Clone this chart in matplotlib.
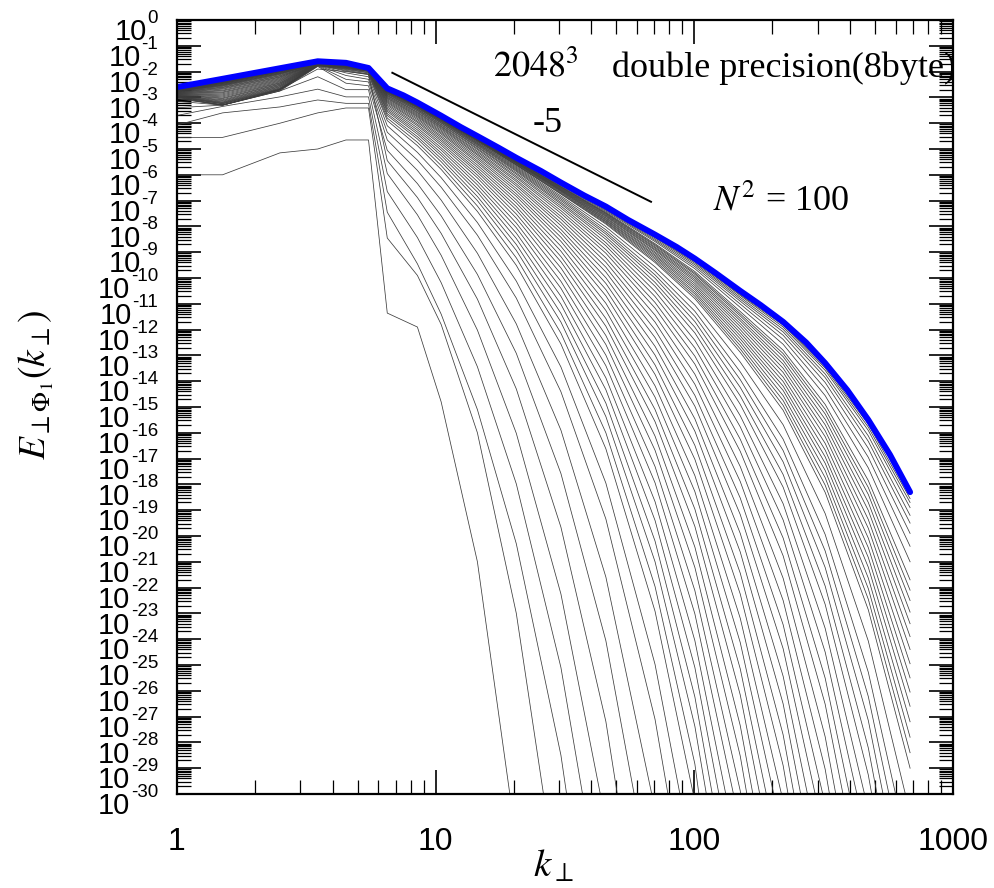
import numpy as np
import matplotlib.pyplot as plt
from matplotlib.ticker import LogLocator, NullFormatter, FixedLocator

plt.rcParams['mathtext.fontset'] = 'stix'

# shells where the spectra are sampled (k_perp)
K_LOW = [1, 1.5, 2.5, 3.5, 4.5, 5.5]
K_HIGH = [6.5, 8.5, 10.5, 14.5, 20.5, 30.5, 45.5, 70.5, 100.5, 150.5, 220.5, 320.5, 470.5, 682.5]

# final spectrum (blue), log10 E
BLUE_K = [1, 1.5, 2.5, 3.5, 4.5, 5.5, 6.5, 7.5, 8.5, 10.5, 12.5, 14.5, 17.5, 20.5, 25.5,
          30.5, 37.5, 45.5, 55.5, 70.5, 85.5, 100.5, 120.5, 150.5, 180.5, 220.5, 270.5,
          320.5, 390.5, 470.5, 570.5, 682.5]
BLUE_LOG_E = [-2.6, -2.28, -1.87, -1.6, -1.66, -1.86, -2.65, -2.92, -3.2, -3.71, -4.15, -4.5,
              -4.95, -5.34, -5.85, -6.3, -6.8, -7.23, -7.75, -8.32, -8.8, -9.25, -9.8, -10.5,
              -11.05, -11.7, -12.5, -13.3, -14.35, -15.5, -16.85, -18.3]

# earlier snapshots, log10 E at K_LOW
SNAP_LOW = [
    [-6.0, -6.0, -5.15, -5.0, -4.65, -4.65],
    [-4.55, -4.55, -4.0, -3.6, -3.41, -3.41],
    [-4.07, -3.6, -3.37, -3.1, -3.23, -3.23],
    [-3.7, -3.35, -2.98, -2.68, -2.98, -2.98],
    [-3.4, -3.3, -2.75, -2.2, -2.7, -2.7],
    [-3.15, -3.3, -2.7, -1.9, -2.0, -2.1],
    [-3.05, -3.3, -2.75, -1.8, -2.45, -2.55],
    [-3.03, -3.3, -2.72, -1.78, -2.3, -2.4],
    [-3.0, -3.3, -2.7, -1.77, -2.15, -2.3],
    [-3.0, -3.28, -2.7, -1.76, -2.05, -2.2],
    [-2.98, -3.25, -2.68, -1.75, -1.98, -2.12],
    [-2.98, -3.24, -2.67, -1.75, -1.95, -2.09],
    [-2.97, -3.22, -2.65, -1.75, -1.92, -2.05],
    [-2.96, -3.2, -2.63, -1.75, -1.9, -2.03],
    [-2.95, -3.18, -2.6, -1.74, -1.88, -2.0],
    [-2.94, -3.15, -2.58, -1.74, -1.87, -1.99],
    [-2.93, -3.12, -2.55, -1.73, -1.85, -1.98],
    [-2.92, -3.09, -2.53, -1.73, -1.84, -1.97],
    [-2.91, -3.05, -2.5, -1.72, -1.83, -1.96],
    [-2.9, -3.02, -2.48, -1.72, -1.82, -1.96],
    [-2.89, -2.98, -2.45, -1.71, -1.81, -1.95],
    [-2.88, -2.94, -2.43, -1.71, -1.81, -1.95],
    [-2.87, -2.9, -2.4, -1.7, -1.8, -1.94],
    [-2.86, -2.86, -2.37, -1.7, -1.79, -1.94],
    [-2.85, -2.82, -2.34, -1.7, -1.78, -1.93],
    [-2.84, -2.79, -2.31, -1.7, -1.78, -1.93],
    [-2.83, -2.75, -2.28, -1.69, -1.77, -1.92],
    [-2.82, -2.72, -2.25, -1.69, -1.77, -1.92],
    [-2.81, -2.68, -2.22, -1.68, -1.76, -1.92],
    [-2.8, -2.65, -2.2, -1.68, -1.76, -1.92],
    [-2.79, -2.62, -2.17, -1.68, -1.75, -1.91],
    [-2.78, -2.6, -2.15, -1.68, -1.75, -1.91],
    [-2.77, -2.57, -2.12, -1.67, -1.74, -1.91],
    [-2.76, -2.55, -2.1, -1.67, -1.74, -1.91],
    [-2.75, -2.53, -2.08, -1.67, -1.73, -1.9],
    [-2.75, -2.52, -2.07, -1.67, -1.73, -1.9],
    [-2.74, -2.5, -2.05, -1.66, -1.72, -1.9],
    [-2.74, -2.49, -2.04, -1.66, -1.72, -1.9],
    [-2.73, -2.47, -2.02, -1.66, -1.72, -1.9],
    [-2.73, -2.46, -2.01, -1.66, -1.72, -1.9],
    [-2.72, -2.45, -2.0, -1.65, -1.71, -1.89],
    [-2.72, -2.44, -1.99, -1.65, -1.71, -1.89],
    [-2.71, -2.43, -1.98, -1.65, -1.71, -1.89],
    [-2.71, -2.43, -1.98, -1.65, -1.71, -1.89],
    [-2.70, -2.42, -1.97, -1.65, -1.70, -1.89],
    [-2.70, -2.42, -1.97, -1.65, -1.70, -1.89],
    [-2.70, -2.41, -1.96, -1.64, -1.70, -1.89],
    [-2.70, -2.41, -1.96, -1.64, -1.70, -1.89],
    [-2.69, -2.40, -1.95, -1.64, -1.70, -1.88],
    [-2.69, -2.40, -1.95, -1.64, -1.70, -1.88],
    [-2.69, -2.39, -1.94, -1.64, -1.69, -1.88],
    [-2.69, -2.39, -1.94, -1.64, -1.69, -1.88],
    [-2.68, -2.38, -1.94, -1.63, -1.69, -1.88],
    [-2.68, -2.38, -1.94, -1.63, -1.69, -1.88],
    [-2.68, -2.37, -1.93, -1.63, -1.69, -1.88],
    [-2.68, -2.37, -1.93, -1.63, -1.69, -1.88],
    [-2.67, -2.36, -1.92, -1.63, -1.68, -1.88],
    [-2.67, -2.35, -1.92, -1.62, -1.68, -1.87],
    [-2.66, -2.34, -1.91, -1.62, -1.68, -1.87],
    [-2.66, -2.33, -1.90, -1.62, -1.67, -1.87],
    [-2.65, -2.32, -1.90, -1.61, -1.67, -1.87],
    [-2.65, -2.31, -1.89, -1.61, -1.67, -1.87],
    [-2.64, -2.30, -1.89, -1.61, -1.66, -1.86],
    [-2.63, -2.30, -1.88, -1.60, -1.66, -1.86],
    [-2.62, -2.29, -1.88, -1.60, -1.66, -1.86],
]

# same snapshots, log10 E at K_HIGH (None = below the frame)
N_ = None
SNAP_HIGH = [
    [-11.36, -11.9, -14.8, -21.0, -31.8, N_, N_, N_, N_, N_, N_, N_, N_, N_],
    [-8.45, -9.9, -11.8, -16.0, -23.0, -34.5, N_, N_, N_, N_, N_, N_, N_, N_],
    [-7.45, -9.45, -11.4, -15.1, -20.3, -28.5, -40.4, N_, N_, N_, N_, N_, N_, N_],
    [-6.65, -8.43, -10.18, -13.44, -17.98, -25.1, -35.3, N_, N_, N_, N_, N_, N_, N_],
    [-5.95, -7.55, -9.12, -12.02, -16.02, -22.25, -31.1, N_, N_, N_, N_, N_, N_, N_],
    [-5.45, -6.88, -8.27, -10.82, -14.3, -19.66, -27.19, -39.3, N_, N_, N_, N_, N_, N_],
    [-5.05, -6.34, -7.59, -9.86, -12.92, -17.58, -24.06, -34.4, N_, N_, N_, N_, N_, N_],
    [-4.65, -5.83, -6.98, -9.04, -11.78, -15.9, -21.59, -30.61, N_, N_, N_, N_, N_, N_],
    [-4.35, -5.43, -6.48, -8.34, -10.78, -14.41, -19.34, -27.11, -36.05, N_, N_, N_, N_, N_],
    [-4.1, -5.13, -6.11, -7.85, -10.12, -13.45, -17.95, -24.98, -33.03, N_, N_, N_, N_, N_],
    [-3.9, -4.87, -5.79, -7.42, -9.51, -12.56, -16.62, -22.92, -30.3, N_, N_, N_, N_, N_],
    [-3.8, -4.74, -5.64, -7.21, -9.22, -12.14, -16.0, -21.96, -28.84, -42.0, N_, N_, N_, N_],
    [-3.7, -4.61, -5.49, -7.0, -8.93, -11.71, -15.37, -21.0, -27.38, -37.76, N_, N_, N_, N_],
    [-3.63, -4.52, -5.37, -6.84, -8.7, -11.37, -14.85, -20.2, -26.24, -36.06, N_, N_, N_, N_],
    [-3.55, -4.42, -5.25, -6.67, -8.47, -11.02, -14.33, -19.4, -25.1, -34.35, N_, N_, N_, N_],
    [-3.49, -4.34, -5.15, -6.53, -8.26, -10.71, -13.87, -18.67, -24.06, -32.79, N_, N_, N_, N_],
    [-3.43, -4.26, -5.04, -6.39, -8.05, -10.4, -13.4, -17.94, -23.02, -31.23, N_, N_, N_, N_],
    [-3.37, -4.18, -4.95, -6.26, -7.87, -10.13, -12.99, -17.31, -22.12, -29.88, -44.0, N_, N_, N_],
    [-3.31, -4.1, -4.85, -6.12, -7.68, -9.85, -12.58, -16.68, -21.22, -28.53, -38.1, N_, N_, N_],
    [-3.26, -4.04, -4.77, -6.01, -7.52, -9.61, -12.23, -16.13, -20.43, -27.35, -36.36, N_, N_, N_],
    [-3.21, -3.97, -4.69, -5.9, -7.36, -9.37, -11.87, -15.57, -19.63, -26.16, -34.62, N_, N_, N_],
    [-3.17, -3.92, -4.62, -5.81, -7.23, -9.17, -11.57, -15.1, -18.96, -25.15, -33.14, N_, N_, N_],
    [-3.13, -3.86, -4.55, -5.71, -7.09, -8.96, -11.26, -14.62, -18.28, -24.13, -31.65, N_, N_, N_],
    [-3.09, -3.81, -4.49, -5.62, -6.97, -8.77, -10.98, -14.18, -17.66, -23.19, -30.28, -45.0, N_, N_],
    [-3.05, -3.76, -4.42, -5.53, -6.84, -8.58, -10.69, -13.74, -17.03, -22.25, -28.9, -38.35, N_, N_],
    [-3.02, -3.72, -4.37, -5.46, -6.74, -8.42, -10.45, -13.37, -16.49, -21.44, -27.71, -36.61, N_, N_],
    [-2.99, -3.68, -4.32, -5.38, -6.63, -8.26, -10.21, -12.99, -15.94, -20.62, -26.51, -34.87, N_, N_],
    [-2.96, -3.64, -4.27, -5.31, -6.53, -8.12, -9.99, -12.65, -15.46, -19.9, -25.44, -33.32, N_, N_],
    [-2.93, -3.6, -4.22, -5.24, -6.43, -7.97, -9.77, -12.31, -14.97, -19.17, -24.37, -31.76, N_, N_],
    [-2.91, -3.57, -4.18, -5.19, -6.35, -7.85, -9.58, -12.01, -14.55, -18.53, -23.44, -30.4, -45.0, N_],
    [-2.88, -3.53, -4.14, -5.13, -6.26, -7.72, -9.39, -11.71, -14.12, -17.89, -22.5, -29.04, -38.65, N_],
    [-2.86, -3.5, -4.11, -5.08, -6.19, -7.61, -9.22, -11.44, -13.73, -17.31, -21.64, -27.78, -36.8, N_],
    [-2.84, -3.47, -4.07, -5.02, -6.11, -7.49, -9.04, -11.17, -13.34, -16.72, -20.77, -26.52, -34.95, N_],
    [-2.82, -3.45, -4.04, -4.98, -6.05, -7.39, -8.9, -10.95, -13.03, -16.25, -20.08, -25.51, -33.47, N_],
    [-2.8, -3.42, -4.0, -4.93, -5.98, -7.29, -8.75, -10.72, -12.71, -15.77, -19.38, -24.5, -31.98, N_],
    [-2.79, -3.4, -3.98, -4.9, -5.93, -7.21, -8.63, -10.52, -12.42, -15.34, -18.75, -23.58, -30.62, -45.0],
    [-2.77, -3.38, -3.95, -4.86, -5.87, -7.13, -8.5, -10.32, -12.13, -14.9, -18.11, -22.65, -29.26, -38.29],
    [-2.76, -3.37, -3.93, -4.83, -5.83, -7.07, -8.4, -10.17, -11.91, -14.57, -17.62, -21.94, -28.21, -36.76],
    [-2.75, -3.35, -3.91, -4.8, -5.79, -7.0, -8.3, -10.01, -11.69, -14.24, -17.13, -21.22, -27.15, -35.23],
    [-2.74, -3.34, -3.89, -4.78, -5.75, -6.94, -8.22, -9.88, -11.49, -13.94, -16.69, -20.58, -26.22, -33.87],
    [-2.73, -3.32, -3.87, -4.75, -5.71, -6.88, -8.13, -9.74, -11.29, -13.64, -16.25, -19.94, -25.28, -32.51],
    [-2.73, -3.31, -3.86, -4.73, -5.67, -6.82, -8.02, -9.57, -11.05, -13.26, -15.69, -19.13, -24.07, -30.76],
    [-2.72, -3.3, -3.84, -4.7, -5.63, -6.75, -7.91, -9.4, -10.8, -12.88, -15.13, -18.31, -22.86, -29.0],
    [-2.72, -3.3, -3.84, -4.69, -5.62, -6.73, -7.87, -9.34, -10.71, -12.75, -14.94, -18.03, -22.45, -28.4],
    [-2.71, -3.29, -3.83, -4.67, -5.6, -6.7, -7.83, -9.27, -10.62, -12.62, -14.75, -17.74, -22.04, -27.8],
    [-2.71, -3.28, -3.82, -4.66, -5.58, -6.67, -7.8, -9.21, -10.54, -12.49, -14.56, -17.46, -21.63, -27.2],
    [-2.7, -3.27, -3.81, -4.65, -5.56, -6.64, -7.76, -9.15, -10.45, -12.36, -14.36, -17.18, -21.21, -26.6],
    [-2.7, -3.27, -3.81, -4.64, -5.55, -6.62, -7.73, -9.1, -10.37, -12.24, -14.19, -16.93, -20.83, -26.05],
    [-2.7, -3.27, -3.8, -4.63, -5.53, -6.6, -7.69, -9.04, -10.29, -12.12, -14.01, -16.67, -20.45, -25.5],
    [-2.7, -3.27, -3.8, -4.62, -5.52, -6.58, -7.66, -8.99, -10.21, -12.0, -13.84, -16.41, -20.08, -24.95],
    [-2.69, -3.26, -3.79, -4.61, -5.51, -6.56, -7.62, -8.93, -10.13, -11.88, -13.66, -16.15, -19.7, -24.4],
    [-2.69, -3.26, -3.79, -4.61, -5.5, -6.54, -7.59, -8.89, -10.06, -11.77, -13.5, -15.92, -19.36, -23.9],
    [-2.69, -3.25, -3.78, -4.6, -5.48, -6.52, -7.56, -8.84, -9.99, -11.66, -13.34, -15.69, -19.01, -23.4],
    [-2.69, -3.25, -3.78, -4.59, -5.47, -6.5, -7.53, -8.8, -9.93, -11.57, -13.2, -15.48, -18.7, -22.95],
    [-2.68, -3.24, -3.77, -4.58, -5.46, -6.48, -7.5, -8.75, -9.86, -11.47, -13.05, -15.27, -18.39, -22.5],
    [-2.68, -3.24, -3.77, -4.58, -5.45, -6.47, -7.48, -8.71, -9.81, -11.39, -12.93, -15.09, -18.12, -22.1],
    [-2.68, -3.24, -3.76, -4.57, -5.44, -6.45, -7.45, -8.67, -9.75, -11.3, -12.8, -14.9, -17.85, -21.7],
    [-2.67, -3.23, -3.75, -4.55, -5.42, -6.42, -7.41, -8.59, -9.64, -11.14, -12.57, -14.56, -17.36, -21.0],
    [-2.67, -3.22, -3.74, -4.54, -5.4, -6.39, -7.37, -8.54, -9.56, -11.01, -12.38, -14.29, -16.95, -20.4],
    [-2.67, -3.22, -3.73, -4.53, -5.39, -6.37, -7.34, -8.49, -9.49, -10.9, -12.22, -14.05, -16.6, -19.9],
    [-2.66, -3.22, -3.73, -4.53, -5.38, -6.35, -7.31, -8.44, -9.43, -10.82, -12.09, -13.86, -16.33, -19.5],
    [-2.66, -3.21, -3.73, -4.52, -5.37, -6.34, -7.29, -8.41, -9.38, -10.75, -11.99, -13.72, -16.12, -19.2],
    [-2.66, -3.21, -3.72, -4.52, -5.36, -6.33, -7.27, -8.38, -9.34, -10.68, -11.9, -13.58, -15.91, -18.9],
    [-2.66, -3.2, -3.72, -4.51, -5.35, -6.32, -7.26, -8.36, -9.31, -10.64, -11.83, -13.49, -15.78, -18.7],
    [-2.65, -3.2, -3.71, -4.51, -5.35, -6.31, -7.25, -8.34, -9.28, -10.6, -11.78, -13.42, -15.67, -18.55],
]

# reference power law k^-5
SLOPE_K = [6.8, 68.0]
SLOPE_E = [9e-3, 9e-8]

Y_EXPONENTS = list(range(0, -31, -1))
X_TICKS = [1, 10, 100, 1000]
X_TICKLABELS = ['1', '10', '100', '1000']

fig = plt.figure(figsize=(9.94, 8.88), dpi=100)
ax = fig.add_axes([177 / 994, 1 - 794 / 888, 776 / 994, 774 / 888])

k_grid = np.array(K_LOW + K_HIGH, dtype=float)
for low, high in zip(SNAP_LOW, SNAP_HIGH):
    logE = np.array(low + high, dtype=float)
    ax.plot(k_grid, 10.0 ** logE, color='#3c3c3c', lw=0.55)

ax.plot(BLUE_K, 10.0 ** np.array(BLUE_LOG_E), color='#0000ff', lw=4.3,
        solid_joinstyle='round', solid_capstyle='round')
ax.plot(SLOPE_K, SLOPE_E, color='black', lw=1.4)

ax.set_xscale('log')
ax.set_yscale('log')
ax.set_xlim(1, 1000)
ax.set_ylim(1e-30, 1)

ax.xaxis.set_major_locator(FixedLocator(X_TICKS))
ax.set_xticklabels(X_TICKLABELS, fontsize=23, family='Liberation Sans')
ax.xaxis.set_minor_locator(LogLocator(base=10, subs=np.arange(2, 10), numticks=1000))
ax.xaxis.set_minor_formatter(NullFormatter())
ax.yaxis.set_major_locator(FixedLocator([10.0 ** e for e in Y_EXPONENTS]))
ax.yaxis.set_minor_locator(LogLocator(base=10, subs=np.arange(2, 10), numticks=1000))
ax.yaxis.set_minor_formatter(NullFormatter())

ax.tick_params(which='both', direction='in', top=True, right=True)
ax.tick_params(axis='y', which='both', labelleft=False)
ax.tick_params(which='major', length=17.5, width=1.2)
ax.tick_params(which='minor', length=10, width=0.9)
ax.tick_params(axis='x', which='major', pad=24)
for sp in ax.spines.values():
    sp.set_linewidth(1.6)

# y tick labels: "10" with raised exponent
for e in Y_EXPONENTS:
    sup = ax.annotate(str(e), xy=(0, 10.0 ** e), xycoords=('axes fraction', 'data'),
                      xytext=(-13.5, -2.2), textcoords='offset points',
                      ha='right', va='baseline', fontsize=13.5, family='Liberation Sans',
                      annotation_clip=False)
    ax.annotate('10', xy=(0, 0), xycoords=sup, xytext=(-0.5, -9.5),
                textcoords='offset points', ha='right', va='baseline', fontsize=21,
                family='Liberation Sans', annotation_clip=False)

serif = 'Liberation Serif'
ax.text(0.4072, 0.9264, r'$2048^3$', transform=ax.transAxes, fontsize=26, va='baseline')
ax.text(0.5606, 0.9264, 'double precision(8byte)', transform=ax.transAxes, fontsize=26,
        family=serif, va='baseline', clip_on=True)
ax.text(0.4588, 0.8553, '-5', transform=ax.transAxes, fontsize=26, family=serif,
        va='baseline')
ax.text(0.6907, 0.7545, r'$N^2$ = 100', transform=ax.transAxes, fontsize=26, family=serif,
        va='baseline')

fig.text(553 / 994, 1 - 866 / 888, r'$k_\perp$', ha='center', va='center', fontsize=28)
fig.text(36 / 994, 1 - 385 / 888, r'$E_{\perp\Phi_1}(k_\perp)$', rotation=90,
         ha='center', va='center', fontsize=27)

fig.savefig('out.png', dpi=100)
